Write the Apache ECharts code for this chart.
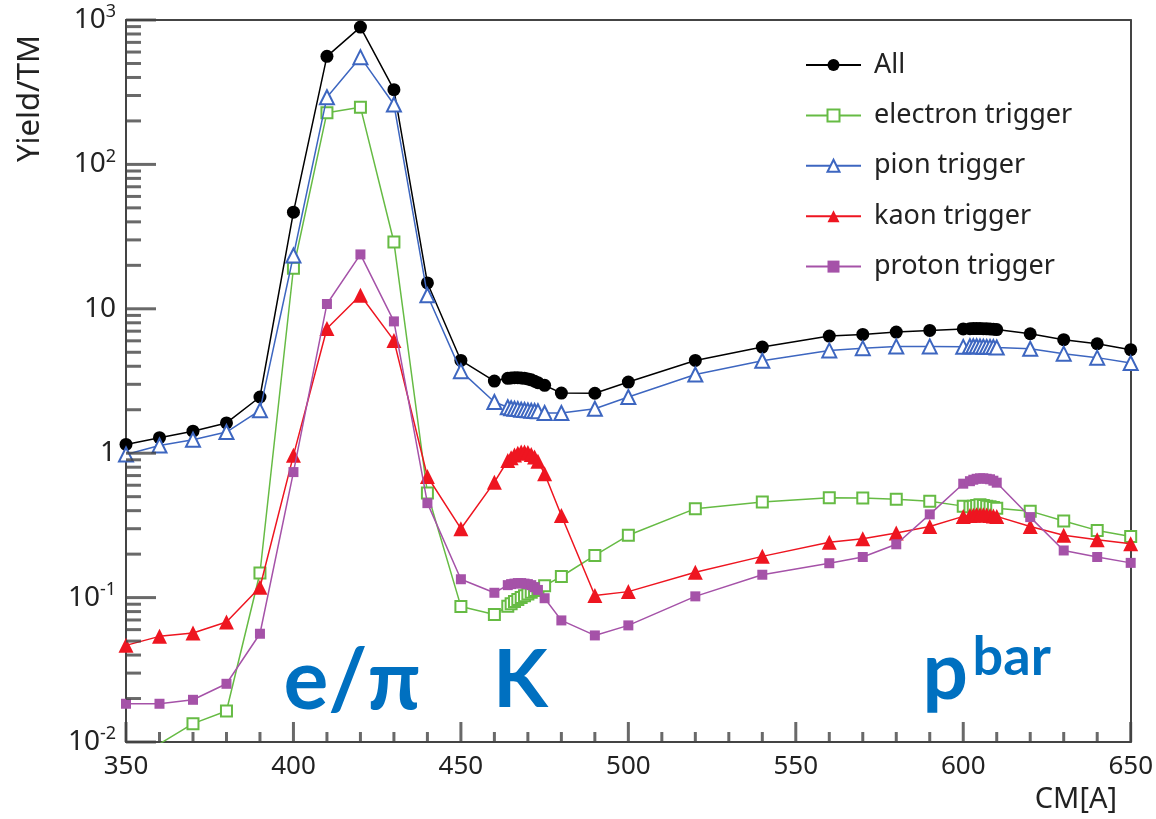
<!DOCTYPE html>
<html>
<head>
<meta charset="utf-8">
<script src="https://cdn.jsdelivr.net/npm/echarts@6/dist/echarts.min.js"></script>
<style>
html, body { margin: 0; padding: 0; background: #fff; }
#chart { width: 1156px; height: 819px; }
</style>
</head>
<body>
<div id="chart"></div>
<script>
// Beam centre momentum setting, CM[A]
const cmValues = [350, 360, 370, 380, 390, 400, 410, 420, 430, 440, 450, 460,
  464, 465, 466, 467, 468, 469, 470, 471, 472, 473,
  475, 480, 490, 500, 520, 540, 560, 570, 580, 590,
  600, 602, 603, 604, 605, 606, 607, 608, 609, 610,
  620, 630, 640, 650];

// Yield per TM for each trigger
const yieldAll = [1.15, 1.28, 1.42, 1.62, 2.45, 46.7, 560, 893, 329, 15.1, 4.39, 3.16,
  3.30, 3.32, 3.33, 3.33, 3.32, 3.30, 3.27, 3.22, 3.15, 3.08,
  2.95, 2.61, 2.60, 3.11, 4.39, 5.43, 6.47, 6.65, 6.90, 7.08,
  7.25, 7.28, 7.30, 7.30, 7.30, 7.28, 7.27, 7.25, 7.22, 7.18,
  6.72, 6.11, 5.73, 5.21];

const yieldElectron = [null, 0.0097, 0.0134, 0.0164, 0.148, 19.1, 228, 249, 29.0, 0.53, 0.0869, 0.0765,
  0.087, 0.0907, 0.094, 0.097, 0.100, 0.103, 0.106, 0.109, 0.112, 0.115,
  0.121, 0.140, 0.196, 0.27, 0.413, 0.459, 0.492, 0.49, 0.479, 0.464,
  0.43, 0.425, 0.43, 0.435, 0.44, 0.435, 0.43, 0.425, 0.42, 0.415,
  0.397, 0.339, 0.292, 0.265];

const yieldPion = [0.98, 1.13, 1.24, 1.40, 1.98, 23.4, 292, 553, 260, 12.4, 3.70, 2.26,
  2.08, 2.05, 2.03, 2.02, 2.00, 1.99, 1.98, 1.97, 1.96, 1.95,
  1.90, 1.90, 2.03, 2.45, 3.51, 4.37, 5.15, 5.34, 5.49, 5.49,
  5.45, 5.50, 5.50, 5.50, 5.48, 5.47, 5.45, 5.45, 5.43, 5.40,
  5.29, 4.89, 4.59, 4.21];

const yieldKaon = [0.0467, 0.0539, 0.0568, 0.0677, 0.118, 0.966, 7.3, 12.4, 6.04, 0.69, 0.30, 0.63,
  0.89, 0.93, 0.97, 1.00, 1.02, 1.02, 1.01, 0.98, 0.94, 0.88,
  0.72, 0.37, 0.1035, 0.11, 0.150, 0.193, 0.242, 0.256, 0.280, 0.311,
  0.365, 0.37, 0.372, 0.375, 0.375, 0.375, 0.373, 0.37, 0.368, 0.365,
  0.311, 0.27, 0.252, 0.236];

const yieldProton = [0.0184, 0.0184, 0.0196, 0.0253, 0.0562, 0.74, 10.8, 23.8, 8.18, 0.451, 0.134, 0.108,
  0.122, 0.124, 0.125, 0.126, 0.126, 0.125, 0.124, 0.122, 0.118, 0.113,
  0.099, 0.0695, 0.0547, 0.0642, 0.102, 0.144, 0.173, 0.191, 0.234, 0.377,
  0.615, 0.64, 0.655, 0.665, 0.67, 0.67, 0.665, 0.66, 0.645, 0.625,
  0.361, 0.212, 0.191, 0.174];

const seriesNames = ['All', 'electron trigger', 'pion trigger', 'kaon trigger', 'proton trigger'];

// Axis ticks
const xMajorTicks = [350, 400, 450, 500, 550, 600, 650];
const xMinorStep = 10;
const yTickValues = [0.01, 0.1, 1, 10, 100, 1000];
const yTickLabels = [['10', '-2'], ['10', '-1'], ['1', ''], ['10', ''], ['10', '2'], ['10', '3']];

// Particle-band annotations, anchored in data space
const bandLabels = [
  { text: 'e/\u03c0', cm: 397.0, y: 0.0262, size: 84 },
  { text: 'K', cm: 459.6, y: 0.0262, size: 80 },
  { text: 'p', cm: 587.8, y: 0.0299, size: 80 },
  { text: 'bar', cm: 602.8, y: 0.0385, size: 54 }
];

const FONT = '"Noto Sans", "DejaVu Sans", sans-serif';
const FRAME = '#444444';

function pairs(values) {
  const out = [];
  values.forEach(function (v, i) {
    if (v !== null) out.push([cmValues[i], v]);
  });
  return out;
}

const styles = [
  { color: '#000000', symbol: 'circle', size: 13 },
  { color: '#66bb44', symbol: 'emptyRect', size: 11 },
  { color: '#3d66c0', symbol: 'emptyTriangle', size: 14 },
  { color: '#ee1520', symbol: 'triangle', size: 15 },
  { color: '#a552a8', symbol: 'rect', size: 10 }
];
const seriesValues = [yieldAll, yieldElectron, yieldPion, yieldKaon, yieldProton];

const lineSeries = seriesNames.map(function (name, i) {
  return {
    name: name,
    type: 'line',
    data: pairs(seriesValues[i]),
    symbol: styles[i].symbol,
    symbolSize: styles[i].size,
    showAllSymbol: true,
    lineStyle: { color: styles[i].color, width: 1.5 },
    itemStyle: { color: styles[i].color, borderWidth: 1.5 },
    emphasis: { disabled: true },
    z: 3 + i
  };
});

// Inward tick marks, drawn as bar-shaped symbols at tick positions on the axes
const TW = 3;
const xMin = xMajorTicks[0], xMax = xMajorTicks[xMajorTicks.length - 1];
const yMin = yTickValues[0];
const xMajorPts = [], xMinorPts = [], yMajorPts = [], yMinorPts = [];
for (let x = xMin; x <= xMax; x += xMinorStep) {
  (xMajorTicks.indexOf(x) >= 0 ? xMajorPts : xMinorPts).push([x, yMin]);
}
for (let k = 0; k < yTickValues.length; k++) {
  yMajorPts.push([xMin, yTickValues[k]]);
  if (k < yTickValues.length - 1) {
    for (let m = 2; m <= 9; m++) yMinorPts.push([xMin, m * yTickValues[k]]);
  }
}
function tickSeries(points, size, offset) {
  return {
    type: 'scatter', data: points, symbol: 'rect', symbolSize: size, symbolOffset: offset,
    itemStyle: { color: FRAME }, silent: true, clip: false, z: 9,
    emphasis: { disabled: true }
  };
}
const tickSeriesList = [
  tickSeries(xMajorPts, [TW, 20], [0, -10]),
  tickSeries(xMinorPts, [TW, 10], [0, -5]),
  tickSeries(yMajorPts, [30, TW], [15, 0]),
  tickSeries(yMinorPts, [15, TW], [7.5, 0])
];

const chart = echarts.init(document.getElementById('chart'), null, { renderer: 'canvas' });

const frameAxisParts = {
  axisTick: { show: false }, axisLabel: { show: false }, splitLine: { show: false },
  axisLine: { show: true, onZero: false, lineStyle: { color: FRAME, width: 2 } }
};

chart.setOption({
  animation: false,
  grid: { left: 126, right: 24, top: 20, bottom: 77 },
  legend: {
    data: seriesNames,
    orient: 'vertical',
    left: 805,
    top: 50,
    padding: 0,
    itemWidth: 55,
    itemHeight: 15,
    itemGap: 20.4,
    selectedMode: false,
    textStyle: { fontFamily: FONT, fontSize: 27, color: '#222', padding: [0, 0, 0, 8], lineHeight: 30 }
  },
  xAxis: [{
    type: 'value',
    min: 350, max: 650, interval: 50,
    axisLine: { show: true, onZero: false, lineStyle: { color: FRAME, width: 2 } },
    axisTick: { show: false },
    splitLine: { show: false },
    axisLabel: { fontFamily: FONT, fontSize: 26, color: '#222', margin: 12 }
  }, Object.assign({ type: 'value', position: 'top', min: 350, max: 650 }, frameAxisParts)],
  yAxis: [{
    type: 'log',
    logBase: 10,
    min: 0.01, max: 1000,
    axisLine: { show: true, onZero: false, lineStyle: { color: FRAME, width: 2 } },
    axisTick: { show: false },
    splitLine: { show: false },
    axisLabel: {
      margin: 10,
      formatter: function (value) {
        let idx = -1;
        yTickValues.forEach(function (t, i) { if (Math.abs(Math.log10(t) - Math.log10(value)) < 1e-6) idx = i; });
        if (idx < 0) return '';
        const lab = yTickLabels[idx];
        return '{b|' + lab[0] + '}' + (lab[1] ? '{s|' + lab[1] + '}' : '');
      },
      rich: {
        b: { fontFamily: FONT, fontSize: 28, color: '#222', lineHeight: 34, verticalAlign: 'middle' },
        s: { fontFamily: FONT, fontSize: 18, color: '#222', lineHeight: 18, verticalAlign: 'top' }
      }
    }
  }, Object.assign({ type: 'log', position: 'right', min: 0.01, max: 1000 }, frameAxisParts)],
  series: lineSeries.concat(tickSeriesList)
});

// Axis titles and band annotations
function px(x, y) { return chart.convertToPixel({ gridIndex: 0 }, [x, y]); }
const graphics = [];
graphics.push({
  type: 'text', x: 1117, y: 800, z: 50,
  style: { text: 'CM[A]', font: '29px ' + FONT, fill: '#222', align: 'right', verticalAlign: 'middle' }
});
graphics.push({
  type: 'text', x: 30, y: 35, rotation: Math.PI / 2, z: 50,
  style: { text: 'Yield/TM', font: '31px ' + FONT, fill: '#222', align: 'right', verticalAlign: 'middle' }
});
bandLabels.forEach(function (b) {
  const p = px(b.cm, b.y);
  graphics.push({
    type: 'text', x: p[0], y: p[1], z: 60,
    style: { text: b.text, font: 'bold ' + b.size + 'px Lato, "Noto Sans", sans-serif', fill: '#0070c0', align: 'left', verticalAlign: 'middle' }
  });
});
chart.setOption({ graphic: graphics });
</script>
</body>
</html>
